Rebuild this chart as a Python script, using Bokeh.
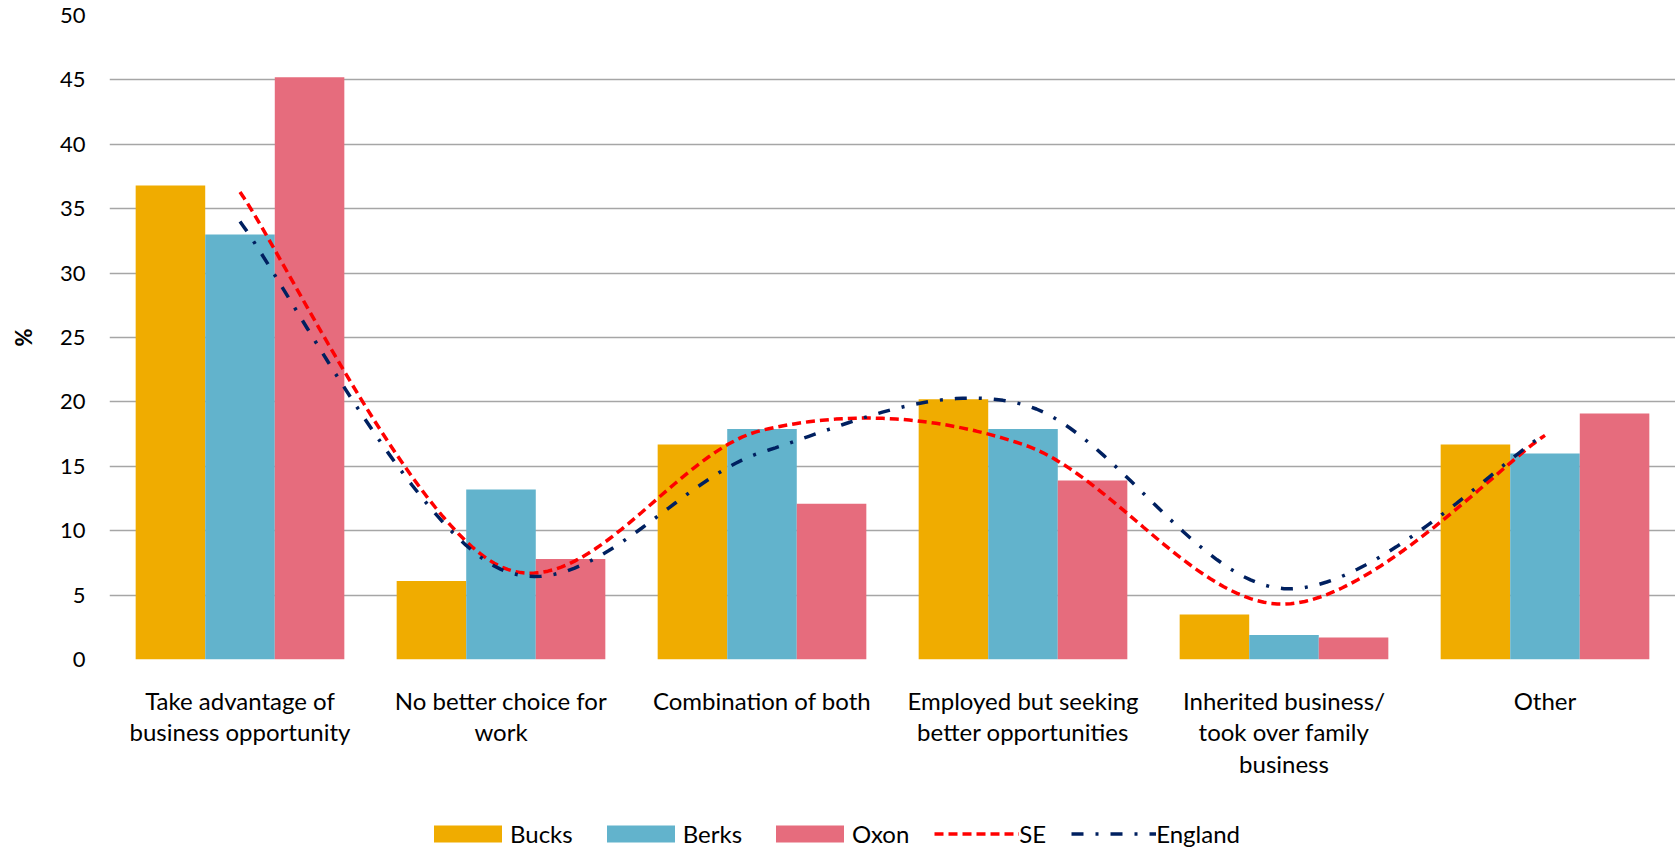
import numpy as np
from bokeh.plotting import figure
from bokeh.layouts import column
from bokeh.models import ColumnDataSource, Range1d, FixedTicker, Legend, LegendItem
from bokeh.transform import dodge
from bokeh.embed import file_html
from bokeh.resources import INLINE

# ---- data ----
categories = [
    "Take advantage of\nbusiness opportunity",
    "No better choice for\nwork",
    "Combination of both",
    "Employed but seeking\nbetter opportunities",
    "Inherited business/\ntook over family\nbusiness",
    "Other",
]
bucks = [36.8, 6.1, 16.7, 20.2, 3.5, 16.7]
berks = [33.0, 13.2, 17.9, 17.9, 1.9, 16.0]
oxon = [45.2, 7.8, 12.1, 13.9, 1.7, 19.1]
se = [36.3, 7.2, 17.8, 16.7, 4.3, 17.4]
england = [34.0, 7.0, 16.1, 19.8, 5.5, 17.5]
y_ticks = [0, 5, 10, 15, 20, 25, 30, 35, 40, 45, 50]
series_names = ["Bucks", "Berks", "Oxon", "SE", "England"]

FONT = "Lato"
C_BUCKS = "#F0AC00"
C_BERKS = "#62B3CC"
C_OXON = "#E66C7D"
C_SE = "#FF0000"
C_ENG = "#002060"
SE_DASH = "9 5"
ENG_DASH = "12 12 3 12"

xc = np.arange(len(categories)) + 0.5
src = ColumnDataSource(dict(x=xc, bucks=bucks, berks=berks, oxon=oxon))


def smooth(xs, ys, n=40):
    """Excel-like smoothed line (Catmull-Rom Bezier through the data points)."""
    pts = list(zip(xs, ys))
    ox, oy = [], []
    t = np.linspace(0, 1, n)
    for i in range(len(pts) - 1):
        p0 = pts[i - 1] if i > 0 else pts[i]
        p1 = pts[i]
        p2 = pts[i + 1]
        p3 = pts[i + 2] if i + 2 < len(pts) else pts[i + 1]
        c1 = (p1[0] + (p2[0] - p0[0]) / 6, p1[1] + (p2[1] - p0[1]) / 6)
        c2 = (p2[0] - (p3[0] - p1[0]) / 6, p2[1] - (p3[1] - p1[1]) / 6)
        for k in range(2):
            a, b, c, d = p1[k], c1[k], c2[k], p2[k]
            v = (1 - t) ** 3 * a + 3 * (1 - t) ** 2 * t * b + 3 * (1 - t) * t ** 2 * c + t ** 3 * d
            (ox if k == 0 else oy).extend(v.tolist() if i == 0 else v[1:].tolist())
    return ox, oy


sx, sy = smooth(xc, se)
ex, ey = smooth(xc, england)


def draw_series(fig):
    bw = 0.2665
    rs = [
        fig.vbar(x=dodge("x", -bw, range=fig.x_range), top="bucks", width=bw, source=src,
                 fill_color=C_BUCKS, line_color=None),
        fig.vbar(x=dodge("x", 0, range=fig.x_range), top="berks", width=bw, source=src,
                 fill_color=C_BERKS, line_color=None),
        fig.vbar(x=dodge("x", bw, range=fig.x_range), top="oxon", width=bw, source=src,
                 fill_color=C_OXON, line_color=None),
        fig.line(sx, sy, line_color=C_SE, line_width=3.5, line_dash=SE_DASH),
        fig.line(ex, ey, line_color=C_ENG, line_width=3.5, line_dash=ENG_DASH),
    ]
    return rs


p = figure(
    width=1675, height=800,
    x_range=Range1d(0, len(categories)), y_range=Range1d(0, 50),
    output_backend="svg", toolbar_location=None,
    min_border_left=109, min_border_right=0, min_border_top=15, min_border_bottom=141,
)
p.outline_line_color = None
p.background_fill_color = "white"
draw_series(p)

# axes
p.yaxis.ticker = FixedTicker(ticks=y_ticks)
p.ygrid.ticker = FixedTicker(ticks=y_ticks)
p.ygrid.grid_line_color = "#A6A6A6"
p.ygrid.grid_line_width = 1.5
p.xgrid.grid_line_color = None

p.yaxis.axis_line_color = None
p.yaxis.major_tick_line_color = None
p.yaxis.minor_tick_line_color = None
p.yaxis.major_label_text_font = FONT
p.yaxis.major_label_text_font_size = "22px"
p.yaxis.major_label_text_color = "black"
p.yaxis.major_label_standoff = 18
p.yaxis.axis_label = "%"
p.yaxis.axis_label_text_font = FONT
p.yaxis.axis_label_text_font_size = "22px"
p.yaxis.axis_label_text_font_style = "bold"
p.yaxis.axis_label_text_color = "black"
p.yaxis.axis_label_standoff = 20

p.xaxis.ticker = FixedTicker(ticks=list(xc))
p.xaxis.major_label_overrides = {float(x): c for x, c in zip(xc, categories)}
p.xaxis.axis_line_color = None
p.xaxis.major_tick_line_color = None
p.xaxis.minor_tick_line_color = None
p.xaxis.major_label_text_font = FONT
p.xaxis.major_label_text_font_size = "24px"
p.xaxis.major_label_text_color = "black"
p.xaxis.major_label_text_line_height = 1.1
p.xaxis.major_label_standoff = 20
p.xaxis.major_label_orientation = "horizontal"

# ---- legend strip (separate figure below the chart; its series lie outside its view) ----
pl = figure(
    width=1675, height=48, x_range=Range1d(100, 101), y_range=Range1d(100, 101),
    output_backend="svg", toolbar_location=None,
    x_axis_type=None, y_axis_type=None,
    min_border_left=0, min_border_right=0, min_border_top=0, min_border_bottom=0,
)
pl.outline_line_color = None
pl.grid.visible = False
lr = draw_series(pl)
legend = Legend(
    items=[LegendItem(label=n, renderers=[r]) for n, r in zip(series_names, lr)],
    orientation="horizontal",
    location=(316, 0),
    glyph_width=85, glyph_height=21,
    label_standoff=0, spacing=25,
    padding=0, margin=0,
    label_text_font=FONT, label_text_font_size="24px", label_text_color="black",
    label_height=24,
    border_line_color=None, background_fill_alpha=0,
)
pl.add_layout(legend, "center")

layout = column(p, pl, spacing=0)
open("out.html", "w").write(file_html(layout, INLINE))
